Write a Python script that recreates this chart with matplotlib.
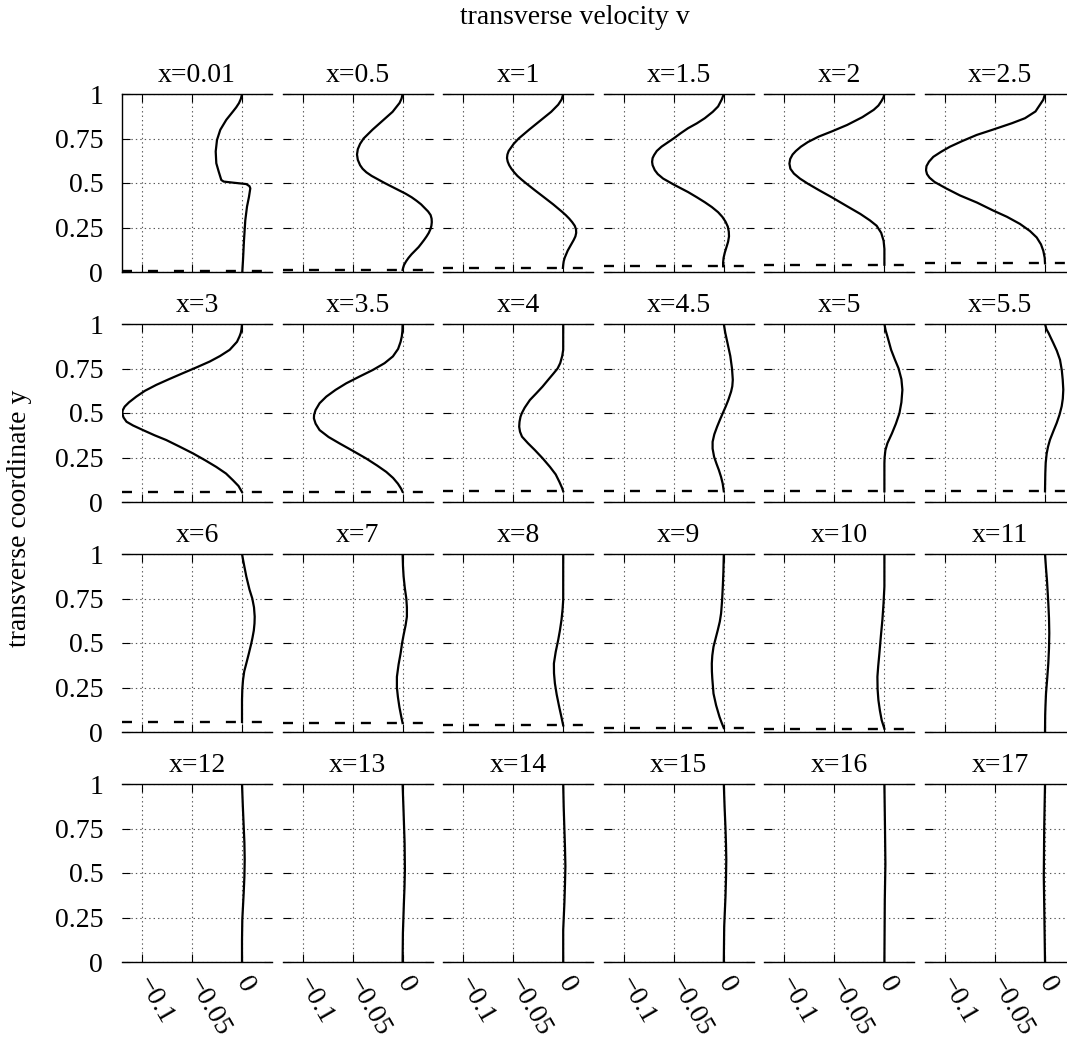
import matplotlib
matplotlib.use('Agg')
import matplotlib.pyplot as plt

plt.rcParams['font.family'] = ['Liberation Serif', 'DejaVu Serif']
plt.rcParams['lines.scale_dashes'] = False
plt.rcParams['axes.unicode_minus'] = True

# ---------------- data ----------------
stations = ["0.01", "0.5", "1", "1.5", "2", "2.5",
            "3", "3.5", "4", "4.5", "5", "5.5",
            "6", "7", "8", "9", "10", "11",
            "12", "13", "14", "15", "16", "17"]

# height of the dashed line in every panel (None = no line)
bump_height = [0.004, 0.012, 0.023, 0.032, 0.041, 0.049,
               0.056, 0.057, 0.060, 0.060, 0.060, 0.060,
               0.056, 0.050, 0.037, 0.022, 0.018, None,
               None, None, None, None, None, None]

y_p001 = [1.0, 0.975, 0.949, 0.925, 0.902, 0.855, 0.799, 0.742, 0.677, 0.611, 0.564, 0.517,
          0.508, 0.502, 0.494, 0.482, 0.47, 0.423, 0.367, 0.291, 0.179, 0.066, 0.0]
v_p001 = [0.0, -0.001, -0.003, -0.0058, -0.009, -0.0157, -0.0217, -0.025, -0.0263, -0.0257,
          -0.0233, -0.0207, -0.0183, -0.009, 0.0043, 0.0075, 0.0083, 0.007, 0.005, 0.0033,
          0.002, 0.001, 0.0003]

y_p05 = [1.0, 0.975, 0.95, 0.90, 0.85, 0.80, 0.75, 0.72, 0.69, 0.66, 0.63, 0.60, 0.58, 0.56,
         0.54, 0.52, 0.50, 0.48, 0.46, 0.44, 0.42, 0.40, 0.38, 0.36, 0.34, 0.32, 0.30, 0.28,
         0.26, 0.24, 0.22, 0.20, 0.18, 0.16, 0.14, 0.12, 0.10, 0.08, 0.06, 0.04, 0.025, 0.012]
v_p05 = [0.0, -0.001, -0.003, -0.010, -0.020, -0.030, -0.039, -0.0425, -0.0448, -0.0456,
         -0.0448, -0.0425, -0.040, -0.0362, -0.031, -0.0245, -0.018, -0.011, -0.004, 0.003,
         0.009, 0.014, 0.0185, 0.022, 0.0255, 0.028, 0.029, 0.0292, 0.0288, 0.0278, 0.0262,
         0.024, 0.0215, 0.0188, 0.016, 0.0125, 0.009, 0.006, 0.0035, 0.0015, 0.0006, 0.0]

y_p1 = [1.0, 0.97, 0.94, 0.90, 0.85, 0.80, 0.75, 0.72, 0.70, 0.68, 0.66, 0.64, 0.62, 0.60,
        0.58, 0.56, 0.54, 0.52, 0.50, 0.46, 0.42, 0.38, 0.34, 0.32, 0.30, 0.28, 0.26, 0.24,
        0.22, 0.20, 0.18, 0.16, 0.14, 0.12, 0.10, 0.08, 0.06, 0.04, 0.023]
v_p1 = [0.0, -0.0015, -0.005, -0.012, -0.023, -0.034, -0.0445, -0.0495, -0.052, -0.0545,
        -0.0558, -0.0562, -0.0555, -0.054, -0.0518, -0.049, -0.0458, -0.0418, -0.0375,
        -0.0285, -0.0192, -0.0100, -0.0015, 0.0025, 0.006, 0.009, 0.0115, 0.0128, 0.013,
        0.0122, 0.0105, 0.0085, 0.0065, 0.0045, 0.003, 0.0015, 0.0005, 0.0, -0.0003]

y_p15 = [1.0, 0.97, 0.93, 0.90, 0.864, 0.835, 0.808, 0.78, 0.751, 0.704, 0.68, 0.657, 0.64,
         0.619, 0.60, 0.572, 0.55, 0.525, 0.491, 0.449, 0.42, 0.392, 0.365, 0.336, 0.31, 0.283,
         0.255, 0.226, 0.20, 0.17, 0.14, 0.109, 0.08, 0.053, 0.032]
v_p15 = [0.0, -0.002, -0.0057, -0.011, -0.019, -0.027, -0.0357, -0.043, -0.05, -0.0623,
         -0.067, -0.0697, -0.0712, -0.0717, -0.0712, -0.069, -0.066, -0.0607, -0.05, -0.0357,
         -0.027, -0.019, -0.012, -0.0057, -0.0015, 0.0017, 0.004, 0.005, 0.0052, 0.0043,
         0.0027, 0.001, -0.0002, -0.0007, -0.0007]

y_p2 = [1.0, 0.98, 0.96, 0.935, 0.911, 0.87, 0.826, 0.79, 0.76, 0.73, 0.704, 0.68, 0.66,
        0.635, 0.609, 0.58, 0.553, 0.525, 0.496, 0.46, 0.421, 0.37, 0.326, 0.29, 0.26, 0.22,
        0.175, 0.13, 0.041]
v_p2 = [0.0, -0.001, -0.003, -0.006, -0.0107, -0.022, -0.0373, -0.0525, -0.066, -0.0765,
        -0.0835, -0.0885, -0.0918, -0.0942, -0.095, -0.094, -0.0905, -0.0845, -0.0765,
        -0.0655, -0.053, -0.0375, -0.024, -0.0145, -0.0078, -0.0032, -0.0008, 0.0, 0.0]

y_p25 = [1.0, 0.968, 0.94, 0.902, 0.864, 0.836, 0.80, 0.77, 0.735, 0.704, 0.675, 0.647, 0.62,
         0.595, 0.572, 0.55, 0.53, 0.506, 0.47, 0.43, 0.39, 0.345, 0.31, 0.27, 0.23, 0.194,
         0.155, 0.119, 0.08, 0.049]
v_p25 = [0.0, -0.0017, -0.005, -0.0095, -0.020, -0.033, -0.052, -0.0683, -0.083, -0.095,
         -0.104, -0.1117, -0.116, -0.1185, -0.119, -0.118, -0.1155, -0.1105, -0.099, -0.085,
         -0.068, -0.0517, -0.038, -0.025, -0.015, -0.0083, -0.004, -0.0017, -0.0003, 0.0]

y_p3 = [1.0, 0.97, 0.95, 0.93, 0.90, 0.855, 0.82, 0.789, 0.755, 0.724, 0.69, 0.658, 0.625,
        0.592, 0.56, 0.536, 0.515, 0.498, 0.475, 0.451, 0.43, 0.404, 0.375, 0.348, 0.31,
        0.273, 0.235, 0.197, 0.16, 0.122, 0.09, 0.056]
v_p3 = [0.0, -0.0005, -0.0012, -0.0025, -0.005, -0.0123, -0.022, -0.0323, -0.046, -0.059,
        -0.073, -0.0857, -0.097, -0.1057, -0.113, -0.1173, -0.1193, -0.1197, -0.1185, -0.1155,
        -0.109, -0.099, -0.0875, -0.0757, -0.062, -0.049, -0.037, -0.0257, -0.016, -0.009,
        -0.0035, 0.0]

y_p35 = [1.0, 0.96, 0.93, 0.90, 0.86, 0.818, 0.78, 0.742, 0.705, 0.667, 0.63, 0.592, 0.555,
         0.517, 0.49, 0.47, 0.44, 0.404, 0.365, 0.329, 0.285, 0.244, 0.205, 0.169, 0.135,
         0.103, 0.075, 0.057]
v_p35 = [0.0, -0.0002, -0.0008, -0.002, -0.0045, -0.0097, -0.018, -0.0297, -0.043, -0.0563,
         -0.067, -0.0763, -0.083, -0.087, -0.0885, -0.0887, -0.087, -0.083, -0.074, -0.063,
         -0.049, -0.0363, -0.0255, -0.0163, -0.0095, -0.0047, -0.0015, 0.0]

y_p4 = [1.0, 0.855, 0.82, 0.78, 0.75, 0.72, 0.69, 0.648, 0.61, 0.573, 0.53, 0.50, 0.479, 0.45,
        0.423, 0.395, 0.367, 0.33, 0.291, 0.245, 0.197, 0.155, 0.113, 0.08, 0.06]
v_p4 = [0.0, 0.0, -0.001, -0.003, -0.0056, -0.010, -0.0145, -0.0207, -0.027, -0.0333, -0.0385,
        -0.0413, -0.0427, -0.0437, -0.044, -0.0432, -0.0412, -0.0352, -0.0282, -0.0205,
        -0.0132, -0.0075, -0.0038, -0.0012, 0.0]

y_p45 = [1.0, 0.95, 0.893, 0.82, 0.75, 0.686, 0.65, 0.62, 0.573, 0.535, 0.498, 0.46, 0.423,
         0.38, 0.338, 0.30, 0.254, 0.215, 0.179, 0.14, 0.103, 0.06]
v_p45 = [0.0, 0.0015, 0.0037, 0.0065, 0.0082, 0.009, 0.0085, 0.0073, 0.0045, 0.0018, -0.0011,
         -0.004, -0.0067, -0.0095, -0.0112, -0.0112, -0.0097, -0.0073, -0.0049, -0.0027,
         -0.0011, 0.0]

y_p5 = [1.0, 0.965, 0.93, 0.89, 0.855, 0.80, 0.75, 0.69, 0.63, 0.56, 0.498, 0.44, 0.385, 0.33,
        0.291, 0.25, 0.216, 0.06]
v_p5 = [0.0, 0.0012, 0.003, 0.005, 0.0067, 0.0105, 0.0142, 0.017, 0.018, 0.017, 0.015, 0.0115,
        0.0075, 0.003, 0.001, 0.0002, 0.0, 0.0]

y_p55 = [1.0, 0.97, 0.95, 0.92, 0.893, 0.85, 0.799, 0.74, 0.688, 0.631, 0.58, 0.538, 0.49,
         0.444, 0.40, 0.35, 0.31, 0.273, 0.22, 0.16, 0.06]
v_p55 = [0.0, 0.0015, 0.0035, 0.006, 0.0083, 0.0118, 0.015, 0.0168, 0.0177, 0.0183, 0.0178,
         0.0167, 0.0145, 0.0117, 0.0085, 0.005, 0.003, 0.0017, 0.0007, 0.0003, 0.0]

y_p6 = [1.0, 0.94, 0.874, 0.80, 0.75, 0.70, 0.648, 0.61, 0.57, 0.53, 0.498, 0.44, 0.385, 0.34,
        0.291, 0.24, 0.179, 0.056]
v_p6 = [0.0, 0.002, 0.0043, 0.0075, 0.0103, 0.012, 0.0127, 0.0125, 0.0118, 0.0105, 0.0093,
        0.0068, 0.0043, 0.0022, 0.001, 0.0003, 0.0, 0.0]

y_p7 = [1.0, 0.93, 0.874, 0.81, 0.75, 0.70, 0.648, 0.60, 0.545, 0.50, 0.442, 0.38, 0.31, 0.25,
        0.197, 0.14, 0.085, 0.05]
v_p7 = [0.0, 0.0004, 0.001, 0.0022, 0.0037, 0.0043, 0.0043, 0.003, 0.001, -0.0005, -0.002,
        -0.004, -0.0057, -0.0057, -0.0047, -0.0032, -0.0013, 0.0]

y_p8 = [1.0, 0.742, 0.69, 0.63, 0.57, 0.517, 0.45, 0.385, 0.33, 0.273, 0.21, 0.141, 0.085, 0.037]
v_p8 = [0.0, 0.0, -0.0006, -0.0017, -0.0033, -0.005, -0.0075, -0.0093, -0.0092, -0.0083,
        -0.0065, -0.004, -0.0018, 0.0]

y_p9 = [1.0, 0.90, 0.817, 0.74, 0.667, 0.62, 0.573, 0.525, 0.479, 0.43, 0.385, 0.34, 0.30,
        0.216, 0.15, 0.085, 0.05, 0.022]
v_p9 = [0.0, -0.0004, -0.001, -0.0017, -0.0027, -0.004, -0.006, -0.0082, -0.0103, -0.0115,
        -0.012, -0.0119, -0.0115, -0.0103, -0.0077, -0.0043, -0.002, 0.0]

y_p10 = [1.0, 0.817, 0.72, 0.63, 0.54, 0.442, 0.37, 0.31, 0.24, 0.179, 0.12, 0.066, 0.018]
v_p10 = [0.0, 0.0, -0.0009, -0.002, -0.0035, -0.005, -0.0062, -0.007, -0.0068, -0.006,
         -0.0045, -0.0027, 0.0]

y_p11 = [1.0, 0.92, 0.85, 0.724, 0.64, 0.555, 0.47, 0.385, 0.30, 0.216, 0.15, 0.10, 0.0]
v_p11 = [0.0, 0.001, 0.002, 0.0033, 0.004, 0.0043, 0.004, 0.0033, 0.0022, 0.001, 0.0005,
         0.0002, 0.0]

y_p12 = [1.0, 0.88, 0.762, 0.67, 0.575, 0.48, 0.388, 0.238, 0.12, 0.0]
v_p12 = [0.0, 0.0008, 0.0017, 0.0024, 0.0027, 0.0024, 0.0017, 0.0003, 0.0, 0.0]

y_p13 = [1.0, 0.84, 0.669, 0.519, 0.42, 0.333, 0.163, 0.0]
v_p13 = [0.0, 0.001, 0.002, 0.0023, 0.0019, 0.0013, 0.0003, 0.0]

y_p14 = [1.0, 0.87, 0.745, 0.64, 0.538, 0.44, 0.332, 0.18, 0.0]
v_p14 = [0.0, 0.0005, 0.0012, 0.0018, 0.0022, 0.0018, 0.0012, 0.0, 0.0]

y_p15b = [1.0, 0.87, 0.75, 0.66, 0.576, 0.47, 0.37, 0.2, 0.0]
v_p15b = [0.0, 0.0008, 0.0017, 0.0022, 0.0025, 0.0022, 0.0017, 0.0004, 0.0]

y_p16 = [1.0, 0.75, 0.55, 0.35, 0.0]
v_p16 = [0.0, 0.0006, 0.001, 0.0004, 0.0]

y_p17 = [1.0, 0.75, 0.48, 0.25, 0.0]
v_p17 = [0.0, -0.0008, -0.0012, -0.0006, 0.0]

y_profiles = [y_p001, y_p05, y_p1, y_p15, y_p2, y_p25,
              y_p3, y_p35, y_p4, y_p45, y_p5, y_p55,
              y_p6, y_p7, y_p8, y_p9, y_p10, y_p11,
              y_p12, y_p13, y_p14, y_p15b, y_p16, y_p17]
v_profiles = [v_p001, v_p05, v_p1, v_p15, v_p2, v_p25,
              v_p3, v_p35, v_p4, v_p45, v_p5, v_p55,
              v_p6, v_p7, v_p8, v_p9, v_p10, v_p11,
              v_p12, v_p13, v_p14, v_p15b, v_p16, v_p17]

x_ticks = [-0.1, -0.05, 0.0]
x_ticklabels = ["\u22120.1", "\u22120.05", "0"]
y_ticks = [0.0, 0.25, 0.5, 0.75, 1.0]
y_ticklabels = ["0", "0.25", "0.5", "0.75", "1"]

# ---------------- layout ----------------
W, H = 1067, 1049
fig = plt.figure(figsize=(W / 100, H / 100), dpi=100)
FS = 20

col_left = [122 + 160.6 * i for i in range(6)]
row_top = [94 + 230 * j for j in range(4)]
pw, ph = 150, 178

for k in range(24):
    r, c = divmod(k, 6)
    ax = fig.add_axes([col_left[c] / W, 1 - (row_top[r] + ph) / H, pw / W, ph / H])
    ax.set_xlim(-0.12, 0.03)
    ax.set_ylim(0, 1)
    ax.set_xticks(x_ticks)
    ax.set_yticks(y_ticks)
    ax.grid(True, linestyle=(0, (1, 2.2)), color='0.35', lw=0.8)
    if bump_height[k] is not None:
        ax.axhline(bump_height[k], color='black', lw=1.7, dashes=(7.2, 11.5), zorder=3)
    ax.plot(v_profiles[k], y_profiles[k], color='black', lw=1.6, zorder=4,
            solid_joinstyle='round')

    for side in ['left', 'right']:
        ax.spines[side].set_visible(False)
    if k == 0:
        ax.spines['left'].set_visible(True)
    for side in ['top', 'bottom', 'left']:
        ax.spines[side].set_linewidth(1.0)

    ax.tick_params(direction='in', length=5.8, width=0.8, top=True, right=True,
                   left=True, bottom=True, labelsize=FS)
    ax.tick_params(axis='y', pad=13.5)
    if c == 0:
        ax.set_yticklabels(y_ticklabels)
    else:
        ax.tick_params(labelleft=False)
    if r == 3:
        ax.set_xticklabels(x_ticklabels, rotation=-60, ha='left', va='center',
                           rotation_mode='anchor')
        ax.tick_params(axis='x', pad=12)
    else:
        ax.tick_params(labelbottom=False)

    ax.set_title("x=" + stations[k], fontsize=FS, pad=8.6)

fig.text(575 / W, 1 - 18 / H, "transverse velocity v", fontsize=FS, ha='center', va='center')
fig.text(20 / W, 1 - 518 / H, "transverse coordinate y", fontsize=FS, ha='center',
         va='center', rotation=90)

fig.savefig('out.png', dpi=100)
